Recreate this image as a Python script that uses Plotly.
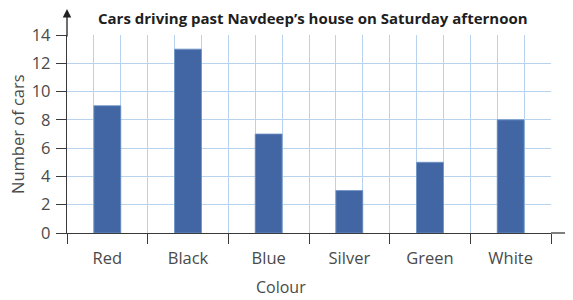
import plotly.graph_objects as go

colours = ["Red", "Black", "Blue", "Silver", "Green", "White"]
cars = [9, 13, 7, 3, 5, 8]
y_ticks = [0, 2, 4, 6, 8, 10, 12, 14]

FONT = "Open Sans"
GRID = "#b8d3ee"
TXT = "#4a4a4a"
AXIS = "#3a3a3a"

# the page body adds an 8px offset, so the figure is 8px smaller
W, H = 565, 292
L, R, T, B = 59, 22, 27, 67
PW, PH = W - L - R, H - T - B


def px(xp):
    return (xp - 8 - L) / PW


def py(yp):
    return (H - B - (yp - 8)) / PH


fig = go.Figure()
fig.add_trace(go.Bar(
    x=colours, y=cars, width=1/3,
    marker=dict(color="#4166a3", line=dict(color="#6f93c6", width=0.8)),
    xaxis="x", yaxis="y", showlegend=False,
))
# invisible trace to carry the fine vertical grid
fig.add_trace(go.Scatter(x=[0, 18], y=[0, 0], mode="markers",
                         marker=dict(opacity=0), xaxis="x2", yaxis="y",
                         showlegend=False, hoverinfo="skip"))

fig.update_layout(
    width=W, height=H,
    margin=dict(l=L, r=R, t=T, b=B, autoexpand=False),
    paper_bgcolor="white", plot_bgcolor="white",
    font=dict(family=FONT, size=15, color=TXT),
    xaxis=dict(
        type="category", range=[-0.5, 5.5], tickson="boundaries",
        ticks="outside", ticklen=10, tickwidth=1.3, tickcolor=AXIS,
        showgrid=False, showline=True, linecolor=AXIS, linewidth=1.3,
        tickfont=dict(size=16.5, color=TXT), automargin=False,
        ticklabelstandoff=10,
    ),
    xaxis2=dict(
        overlaying="x", range=[0, 18], dtick=1, tick0=0,
        showgrid=True, gridcolor=GRID, gridwidth=1.3,
        showticklabels=False, ticks="", showline=False, zeroline=False,
        automargin=False,
    ),
    yaxis=dict(
        range=[0, 14], tickvals=y_ticks, ticks="outside", ticklen=10,
        tickwidth=1.3, tickcolor=AXIS,
        showgrid=True, gridcolor=GRID, gridwidth=1.3,
        showline=True, linecolor=AXIS, linewidth=1.3, zeroline=False,
        tickfont=dict(size=16.5, color=TXT), automargin=False,
        ticklabelstandoff=2,
    ),
    shapes=[
        dict(type="line", xref="paper", yref="paper", x0=1.0, x1=px(573), y0=0, y1=0,
             line=dict(color=AXIS, width=1.3), layer="above"),
    ],
    annotations=[
        dict(xref="paper", yref="paper", x=px(313), y=py(18),
             text="<b>Cars driving past Navdeep’s house on Saturday afternoon</b>",
             showarrow=False, xanchor="center", yanchor="middle",
             font=dict(family=FONT, size=15, color="#1e1e1e")),
        dict(xref="paper", yref="paper", x=0, y=py(8), ax=0, ay=30,
             showarrow=True, arrowhead=2, arrowsize=1.3, arrowwidth=1.3,
             arrowcolor="#222", text=""),
        dict(xref="paper", yref="paper", x=px(281), y=py(287), text="Colour",
             showarrow=False, xanchor="center", yanchor="middle",
             font=dict(size=16, color=TXT)),
        dict(xref="paper", yref="paper", x=px(17), y=py(134), text="Number of cars",
             showarrow=False, textangle=-90, xanchor="center", yanchor="middle",
             font=dict(size=16.5, color=TXT)),
    ],
)

fig.write_html("out.html")
